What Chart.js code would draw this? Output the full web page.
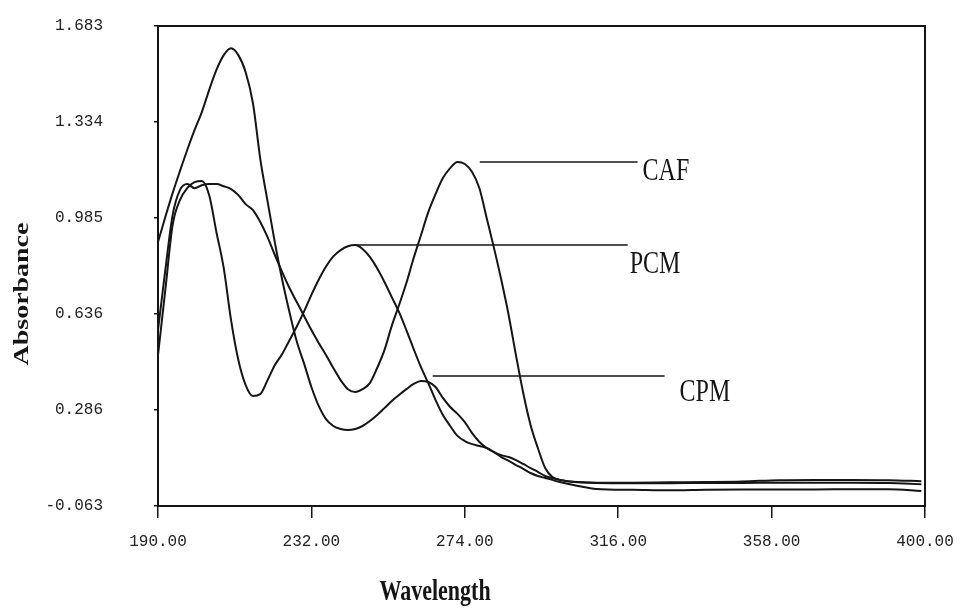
<!DOCTYPE html>
<html>
<head>
<meta charset="utf-8">
<script src="https://cdn.jsdelivr.net/npm/chart.js@4.4.1/dist/chart.umd.min.js"></script>
<style>
  html, body { margin: 0; padding: 0; background: #fff; }
  #wrap { width: 969px; height: 614px; position: relative; }
</style>
</head>
<body>
<div id="wrap"><canvas id="spectra"></canvas></div>
<script>
// wavelength (nm) grid shared by the three spectra
var wavelengths = [
  190, 192, 194, 196, 198, 200, 202, 204, 206, 208,
  210, 212, 214, 216, 218, 220, 222, 224, 226, 228,
  230, 232, 234, 236, 238, 240, 242, 244, 246, 248,
  250, 252, 254, 256, 258, 260, 262, 264, 266, 268,
  270, 272, 274, 276, 278, 280, 282, 284, 286, 288,
  290, 292, 294, 296, 298, 300, 305, 310, 320, 330,
  340, 350, 360, 370, 380, 390, 399
];

// absorbance
var cafValues = [
  0.577, 0.795, 0.995, 1.086, 1.108, 1.093, 1.104, 1.108, 1.108, 1.100,
  1.090, 1.068, 1.035, 1.013, 0.970, 0.915, 0.850, 0.788, 0.730, 0.679,
  0.628, 0.577, 0.530, 0.486, 0.439, 0.395, 0.362, 0.352, 0.362, 0.384,
  0.439, 0.504, 0.592, 0.668, 0.748, 0.839, 0.922, 1.006, 1.072, 1.130,
  1.166, 1.188, 1.181, 1.152, 1.093, 0.984, 0.875, 0.759, 0.632, 0.486,
  0.348, 0.232, 0.148, 0.075, 0.042, 0.032, 0.023, 0.022, 0.022, 0.023,
  0.024, 0.026, 0.031, 0.032, 0.032, 0.031, 0.027
];
var pcmValues = [
  0.486, 0.722, 0.959, 1.050, 1.093, 1.115, 1.119, 1.068, 0.933, 0.802,
  0.613, 0.468, 0.377, 0.337, 0.344, 0.395, 0.450, 0.490, 0.540, 0.590,
  0.645, 0.705, 0.760, 0.808, 0.845, 0.868, 0.882, 0.886, 0.872, 0.843,
  0.802, 0.752, 0.697, 0.642, 0.577, 0.508, 0.442, 0.384, 0.322, 0.268,
  0.228, 0.192, 0.173, 0.162, 0.155, 0.148, 0.133, 0.115, 0.101, 0.086,
  0.072, 0.057, 0.046, 0.039, 0.032, 0.024, 0.010, -0.001, -0.004, -0.006,
  -0.004, -0.003, -0.003, -0.003, -0.002, -0.002, -0.008
];
var cpmValues = [
  0.897, 0.988, 1.075, 1.155, 1.232, 1.304, 1.370, 1.450, 1.523, 1.577,
  1.602, 1.577, 1.515, 1.402, 1.200, 1.045, 0.895, 0.760, 0.642, 0.535,
  0.455, 0.370, 0.301, 0.253, 0.228, 0.217, 0.213, 0.217, 0.228, 0.246,
  0.268, 0.293, 0.319, 0.341, 0.362, 0.381, 0.392, 0.388, 0.370, 0.330,
  0.297, 0.272, 0.242, 0.202, 0.170, 0.148, 0.133, 0.122, 0.115, 0.104,
  0.090, 0.075, 0.061, 0.046, 0.039, 0.032, 0.024, 0.021, 0.020, 0.020,
  0.021, 0.021, 0.022, 0.022, 0.022, 0.021, 0.016
];

var xTickValues = [190, 232, 274, 316, 358, 400];
var yTickValues = [-0.063, 0.286, 0.636, 0.985, 1.334, 1.683];

// peak labels: name, leader line start / end (nm) and height (absorbance)
var peakNames = ['CAF', 'PCM', 'CPM'];
var peakLineFrom = [278.1, 243.9, 265.2];
var peakLineTo = [321.3, 318.6, 328.7];
var peakLineAt = [1.188, 0.886, 0.41];

var ink = '#151515';
var labelShift = [[5, 10], [2, 20], [15, 17]];

function toPoints(values) {
  return wavelengths.map(function(w, i) {
    return { x: w, y: values[i] };
  });
}

// scanned text is a bit taller than wide, so stretch it
function stretchedText(ctx, text, x, y, font, rotate) {
  ctx.save();
  ctx.translate(x, y);
  if (rotate) {
    ctx.rotate(-Math.PI / 2);
    ctx.scale(1.3, 1);
  } else {
    ctx.scale(1, 1.3);
  }
  ctx.font = font;
  ctx.fillStyle = ink;
  ctx.textAlign = rotate ? 'center' : 'left';
  ctx.textBaseline = 'middle';
  ctx.fillText(text, 0, 0);
  ctx.restore();
}

var spectraDecor = {
  id: 'spectraDecor',
  afterDraw: function(chart) {
    var ctx = chart.ctx;
    var area = chart.chartArea;
    var xs = chart.scales.x;
    var ys = chart.scales.y;

    ctx.save();
    ctx.strokeStyle = ink;
    ctx.lineWidth = 2;
    ctx.strokeRect(area.left, area.top, area.right - area.left, area.bottom - area.top);

    ctx.lineWidth = 1.5;
    peakNames.forEach(function(name, i) {
      var y = ys.getPixelForValue(peakLineAt[i]);
      var x1 = xs.getPixelForValue(peakLineTo[i]);
      ctx.beginPath();
      ctx.moveTo(xs.getPixelForValue(peakLineFrom[i]), y);
      ctx.lineTo(x1, y);
      ctx.stroke();
      stretchedText(ctx, name, x1 + labelShift[i][0], y + labelShift[i][1], '24px "Liberation Serif"', false);
    });
    ctx.restore();

    // axis titles
    var wl = 'Wavelength';
    ctx.save();
    ctx.font = 'bold 22px "Liberation Serif"';
    var wlWidth = ctx.measureText(wl).width;
    ctx.restore();
    stretchedText(ctx, wl, 435 - wlWidth / 2, 593, 'bold 22px "Liberation Serif"', false);
    stretchedText(ctx, 'Absorbance', 22, 294, 'bold 21.5px "Liberation Serif"', true);
  }
};

new Chart(document.getElementById('spectra'), {
  type: 'line',
  data: {
    datasets: [
      { label: 'CAF', data: toPoints(cafValues), borderColor: ink },
      { label: 'PCM', data: toPoints(pcmValues), borderColor: ink },
      { label: 'CPM', data: toPoints(cpmValues), borderColor: ink }
    ]
  },
  options: {
    responsive: true,
    maintainAspectRatio: false,
    animation: false,
    layout: { padding: { left: 0, right: 44, top: 26, bottom: 0 } },
    elements: {
      point: { radius: 0 },
      line: { borderWidth: 2, cubicInterpolationMode: 'monotone', fill: false }
    },
    plugins: {
      legend: { display: false },
      tooltip: { enabled: false }
    },
    scales: {
      x: {
        type: 'linear',
        min: 190,
        max: 400,
        afterBuildTicks: function(scale) {
          scale.ticks = xTickValues.map(function(v) { return { value: v }; });
        },
        afterFit: function(scale) { scale.height = 108; },
        grid: { drawOnChartArea: false, drawTicks: true, tickLength: 12, color: ink, lineWidth: 1.5 },
        border: { display: true, color: ink, width: 2 },
        ticks: {
          padding: 14,
          color: '#222',
          autoSkip: false,
          maxRotation: 0,
          font: { family: '"Liberation Mono", monospace', size: 16 },
          callback: function(v) { return Number(v).toFixed(2); }
        }
      },
      y: {
        type: 'linear',
        min: -0.063,
        max: 1.683,
        afterBuildTicks: function(scale) {
          scale.ticks = yTickValues.map(function(v) { return { value: v }; });
        },
        afterFit: function(scale) {
          scale.width = 158;
          // the wide label gap would otherwise push the plot down
          scale.paddingTop = 10;
          scale.paddingBottom = 10;
        },
        grid: { drawOnChartArea: false, drawTicks: true, tickLength: 4, color: ink, lineWidth: 1.5 },
        border: { display: true, color: ink, width: 2 },
        ticks: {
          padding: 51,
          color: '#222',
          autoSkip: false,
          font: { family: '"Liberation Mono", monospace', size: 16 },
          callback: function(v) { return Number(v).toFixed(3); }
        }
      }
    }
  },
  plugins: [spectraDecor]
});
</script>
</body>
</html>
